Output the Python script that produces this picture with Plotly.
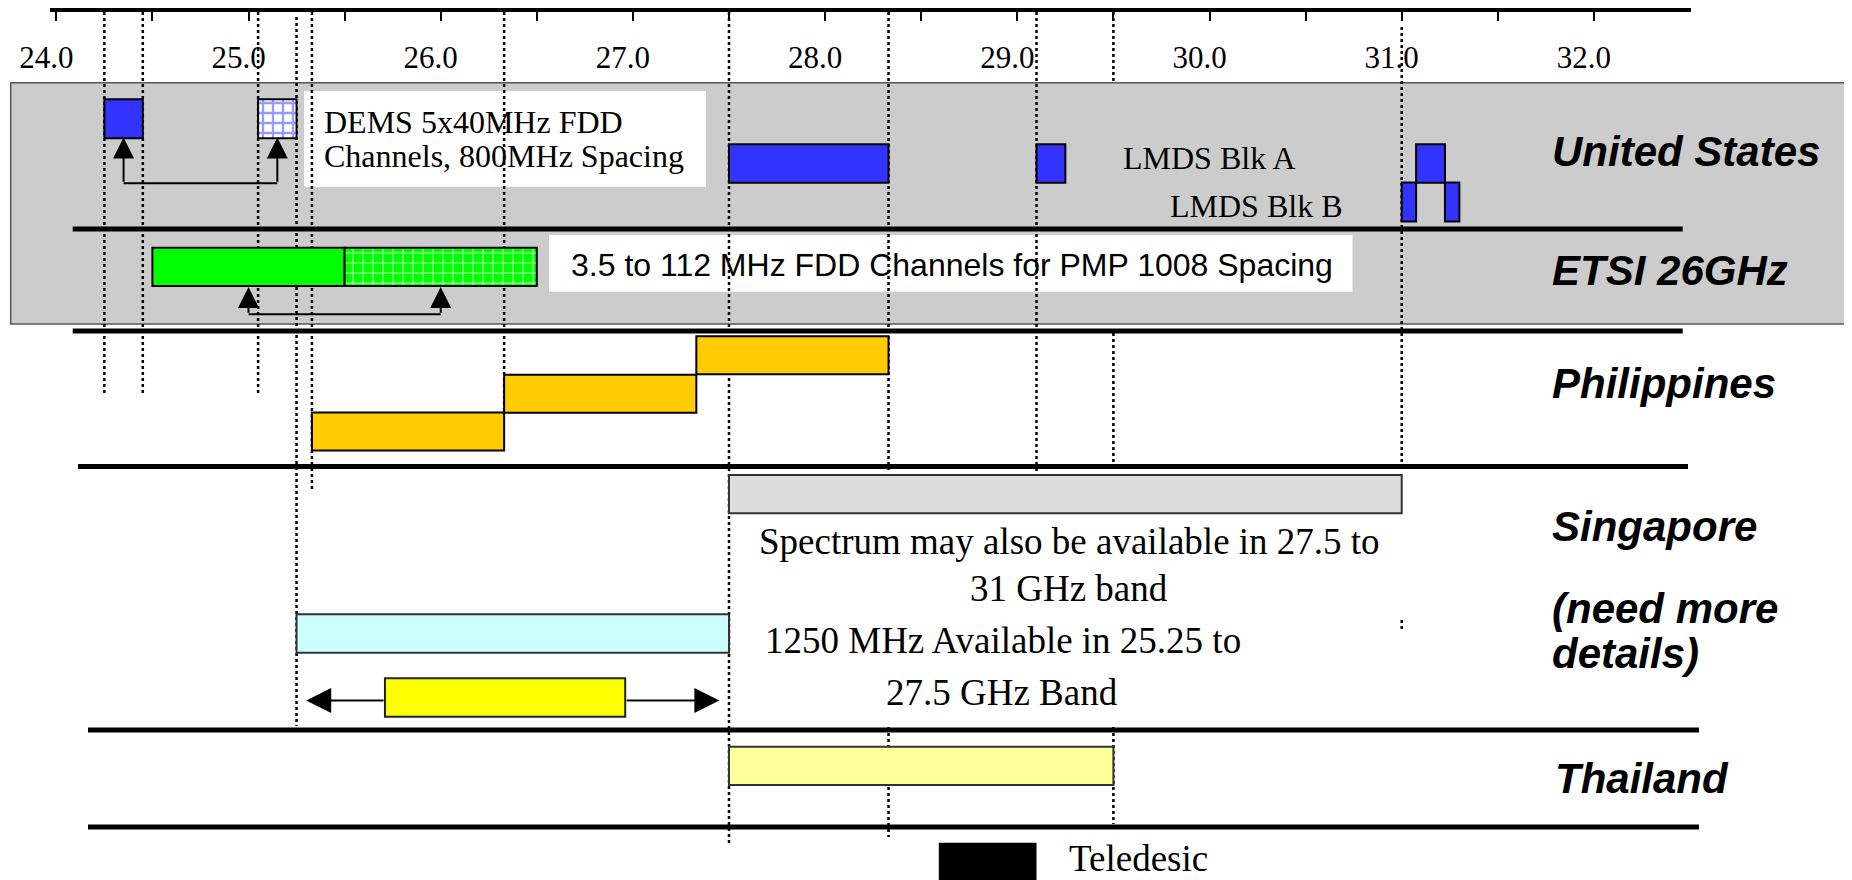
import plotly.graph_objects as go

# ---------------- data (GHz) ----------------
tick_vals = [24.0, 24.5, 25.0, 25.5, 26.0, 26.5, 27.0, 27.5, 28.0,
             28.5, 29.0, 29.5, 30.0, 30.5, 31.0, 31.5, 32.0]
tick_text = ["24.0", "", "25.0", "", "26.0", "", "27.0", "", "28.0",
             "", "29.0", "", "30.0", "", "31.0", "", "32.0"]

us_dems_start = [24.25]
us_dems_end = [24.45]
us_dems_hatch_start = [25.05]
us_dems_hatch_end = [25.25]
lmds_a_start = [27.5, 29.1, 31.075]
lmds_a_end = [28.33, 29.25, 31.225]
lmds_b_start = [31.0, 31.225]
lmds_b_end = [31.075, 31.3]
etsi_start = [24.5]
etsi_end = [25.5]
etsi_hatch_start = [25.5]
etsi_hatch_end = [26.5]
phil_start = [25.33, 26.33, 27.33]
phil_end = [26.33, 27.33, 28.33]
sing_alt_start = [27.5]
sing_alt_end = [31.0]
sing_main_start = [25.25]
sing_main_end = [27.5]
sing_chan_start = [25.71]
sing_chan_end = [26.96]
thai_start = [27.5]
thai_end = [29.5]
dems_pair = [24.35, 25.15]        # 800 MHz spacing
etsi_pair = [25.0, 26.0]          # 1008 MHz spacing
sing_arrow_tips = [25.3, 27.45]

marker_freqs = [24.25, 24.45, 25.05, 25.25, 25.33, 26.33, 27.5, 28.33, 29.1, 29.5, 31.0]

countries = ["United States", "ETSI 26GHz", "Philippines", "Singapore",
             "(need more", "details)", "Thailand"]

# ---------------- layout geometry (pixels) ----------------
W, H = 1852, 880
OFF = 8                          # page body margin compensation
PX0, PPG = 56.3, 192.2           # pixel of 24.0 GHz, pixels per GHz


def f_at(px):
    return 24.0 + (px - PX0) / PPG


def xp(px):
    return (px - OFF) / W


# vertical extents of each dotted marker line (pixel rows)
marker_spans = {
    24.25: [(12, 393)], 24.45: [(12, 393)], 25.05: [(12, 393)],
    25.25: [(17, 726)], 25.33: [(12, 489)], 26.33: [(12, 413)],
    27.5: [(12, 843)], 28.33: [(12, 470), (727, 837)],
    29.1: [(12, 472)], 29.5: [(12, 82), (333, 470), (727, 824)],
    31.0: [(27, 468), (620, 630)],
}

SERIF = "Liberation Serif"
SANS = "Liberation Sans"
BLUE = "#3333FF"
GREEN = "#00FF00"

fig = go.Figure()


def hbar(starts, ends, ys, h, color, pattern=None, edge="black", ew=2):
    n = len(starts)
    if not isinstance(ys, list):
        ys = [ys] * n
    marker = dict(color=color, line=dict(color=edge, width=ew))
    if pattern:
        marker["pattern"] = pattern
    fig.add_trace(go.Bar(orientation="h", base=starts,
                         x=[e - s for s, e in zip(starts, ends)], y=ys,
                         width=h, marker=marker, hoverinfo="skip",
                         showlegend=False))


# United States
hbar(us_dems_start, us_dems_end, 118.7, 39, BLUE)
hbar(us_dems_hatch_start, us_dems_hatch_end, 118.7, 39, "white",
     pattern=dict(shape="+", fgcolor=BLUE, bgcolor="white", size=10, solidity=0.4))
hbar(lmds_a_start, lmds_a_end, 163.5, 38.5, BLUE)
hbar(lmds_b_start, lmds_b_end, 202.0, 39, BLUE)
# ETSI
hbar(etsi_start, etsi_end, 266.8, 38.3, GREEN)
hbar(etsi_hatch_start, etsi_hatch_end, 266.8, 38.3, GREEN,
     pattern=dict(shape="+", fgcolor="white", bgcolor=GREEN, size=10, solidity=0.3))
# Philippines
hbar(phil_start, phil_end, [431.4, 393.8, 355.2], 38, "#FFCC00")
# Singapore
hbar(sing_alt_start, sing_alt_end, 494.2, 38.3, "#DDDDDD", edge="#333333")
hbar(sing_main_start, sing_main_end, 633.5, 38.4, "#CCFFFF", edge="#333333")
hbar(sing_chan_start, sing_chan_end, 697.5, 38.4, "#FFFF00", edge="#222222")
# Thailand
hbar(thai_start, thai_end, 765.8, 38.3, "#FFFF99", edge="#333333")

# connectors of the spacing arrows
fig.add_trace(go.Scatter(x=dems_pair, y=[183.3, 183.3], mode="lines",
                         line=dict(color="black", width=2), hoverinfo="skip", showlegend=False))
fig.add_trace(go.Scatter(x=etsi_pair, y=[314.3, 314.3], mode="lines",
                         line=dict(color="black", width=2), hoverinfo="skip", showlegend=False))

# dummy trace carrying the frequency ruler axis
fig.add_trace(go.Scatter(x=[tick_vals[0]], y=[-50], xaxis="x2", yaxis="y", mode="markers",
                         marker=dict(opacity=0), hoverinfo="skip", showlegend=False))

shapes = []
# grey panel behind US / ETSI
shapes.append(dict(type="rect", xref="paper", yref="y", x0=xp(10.7), x1=xp(1851), y0=82.7, y1=324,
                   fillcolor="#CCCCCC", line=dict(color="#555555", width=1.5), layer="below"))
# white text boxes
shapes.append(dict(type="rect", xref="paper", yref="y", x0=xp(304), x1=xp(706), y0=91, y1=186.7,
                   fillcolor="white", line=dict(width=0), layer="below"))
shapes.append(dict(type="rect", xref="paper", yref="y", x0=xp(549), x1=xp(1352.5), y0=235, y1=291.7,
                   fillcolor="white", line=dict(width=0), layer="below"))
# dotted marker lines
for f in marker_freqs:
    for (y0, y1) in marker_spans[f]:
        shapes.append(dict(type="line", xref="x", yref="y", x0=f, x1=f, y0=y0, y1=y1,
                           line=dict(color="black", width=2.5, dash="dot"), layer="below"))
# row separators
for (x0, x1, y) in [(72.7, 1682.7, 229), (72.7, 1682.7, 331), (78, 1688, 466.5),
                    (88, 1699, 730), (88, 1699, 827)]:
    shapes.append(dict(type="line", xref="paper", yref="y", x0=xp(x0), x1=xp(x1), y0=y, y1=y,
                       line=dict(color="black", width=5), layer="above"))
# Teledesic legend swatch
shapes.append(dict(type="rect", xref="paper", yref="y", x0=xp(938.8), x1=xp(1036.5), y0=842.7, y1=890,
                   fillcolor="black", line=dict(width=0), layer="above"))

ann = []


def text(s, px, y, size, family=SERIF, anchor="left"):
    ann.append(dict(text=s, xref="paper", yref="y", x=xp(px), y=y, xanchor=anchor,
                    yanchor="middle", showarrow=False,
                    font=dict(family=family, size=size, color="black")))


text("DEMS 5x40MHz FDD", 322, 121.7, 32)
text("Channels, 800MHz Spacing", 322, 156, 32)
text("LMDS Blk A", 1209, 158, 32, anchor="center")
text("LMDS Blk B", 1256, 206, 32, anchor="center")
text("3.5 to 112 MHz FDD Channels for PMP 1008 Spacing", 568.6, 265, 32, family=SANS)
text("Spectrum may also be available in 27.5 to", 1069.6, 541, 37, anchor="center")
text("31 GHz band", 1069, 588, 37, anchor="center")
text("1250 MHz Available in 25.25 to", 1003, 640, 37, anchor="center")
text("27.5 GHz Band", 1002, 692, 37, anchor="center")
text("Teledesic", 1067.4, 858, 37)

country_y = [151.7, 270, 383, 526.7, 608, 653, 778]
country_x = [1550, 1550, 1550, 1550, 1550, 1550, 1553]
for name, y, px in zip(countries, country_y, country_x):
    text("<b><i>" + name + "</i></b>", px, y, 42, family=SANS)


def arrow(tip_x, tip_y, tail_x, tail_y, scale):
    ann.append(dict(text="", x=tip_x, y=tip_y, xref="x", yref="y", ax=tail_x, ay=tail_y,
                    axref="x", ayref="y", showarrow=True, arrowhead=2, arrowsize=scale,
                    arrowwidth=2, arrowcolor="black", standoff=0, startstandoff=0))


for f in dems_pair:
    arrow(f, 137.5, f, 183.3, 2.1)
for f in etsi_pair:
    arrow(f, 287, f, 314.3, 2.1)
arrow(sing_arrow_tips[0], 700.5, sing_chan_start[0], 700.5, 2.5)
arrow(sing_arrow_tips[1], 700.5, sing_chan_end[0], 700.5, 2.5)

fig.update_layout(
    width=W, height=H, margin=dict(l=0, r=0, t=0, b=0, autoexpand=False),
    paper_bgcolor="white", plot_bgcolor="rgba(0,0,0,0)",
    barmode="overlay", showlegend=False,
    shapes=shapes, annotations=ann,
    xaxis=dict(range=[f_at(OFF), f_at(W + OFF)], visible=False, fixedrange=True),
    yaxis=dict(range=[H + OFF, OFF], visible=False, fixedrange=True),
    xaxis2=dict(domain=[xp(50.4), xp(1691)], range=[f_at(50.4), f_at(1691)],
                anchor="free", position=1 - (9.2 - OFF) / H, side="bottom",
                showline=True, linewidth=5, linecolor="black",
                ticks="outside", ticklen=9, tickwidth=2, tickcolor="black",
                tickmode="array", tickvals=tick_vals, ticktext=tick_text,
                tickfont=dict(family=SERIF, size=31, color="black"),
                ticklabelstandoff=10, ticklabelshift=-10, automargin=False,
                showgrid=False, zeroline=False, fixedrange=True),
)

fig.write_html("out.html")
